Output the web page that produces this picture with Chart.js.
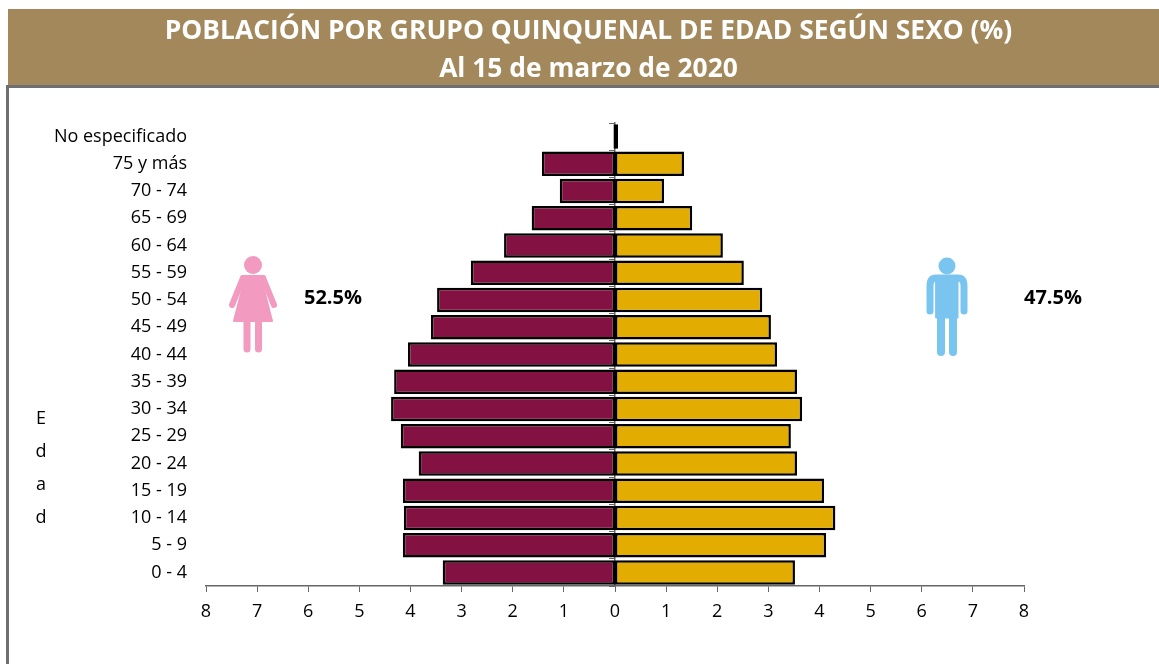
<!DOCTYPE html>
<html lang="es">
  <head>
    <meta charset="UTF-8" />
    <title>Población por grupo quinquenal de edad según sexo</title>
    <script src="https://cdn.jsdelivr.net/npm/chart.js"></script>
    <style>
      html, body { margin: 0; padding: 0; background: #fff; overflow: hidden; }
      body { width: 1159px; height: 664px; position: relative; font-family: "Open Sans", sans-serif; color: #000; }
      #myChart { position: absolute; left: 0; top: 0; }
      #header { position: absolute; left: 8px; top: 9px; width: 1151px; height: 76px; background: #a2885a; color: #fff;
        font-weight: bold; font-size: 26.4px; text-align: center; }
      #header div { position: absolute; left: 0; width: 1161px; height: 38px; line-height: 38px; }
      #frame { position: absolute; left: 6px; top: 85px; width: 1153px; height: 579px; box-sizing: border-box;
        border-left: 3px solid #6e6f73; border-top: 3px solid #6e6f73; }
      .pct { position: absolute; top: 285px; font-weight: bold; font-size: 20px; line-height: 24px; }
      .edad { position: absolute; left: 31px; width: 20px; text-align: center; font-size: 18px; line-height: 22px; }
      svg { position: absolute; left: 0; top: 0; }
    </style>
  </head>
  <body>
    <canvas id="myChart" width="1159" height="664"></canvas>

    <div id="header">
      <div style="top: 1px">POBLACIÓN POR GRUPO QUINQUENAL DE EDAD SEGÚN SEXO (%)</div>
      <div style="top: 39px">Al 15 de marzo de 2020</div>
    </div>
    <div id="frame"></div>

    <div class="edad" style="top: 406px">E</div>
    <div class="edad" style="top: 439px">d</div>
    <div class="edad" style="top: 472px">a</div>
    <div class="edad" style="top: 505px">d</div>

    <div class="pct" style="left: 304px">52.5%</div>
    <div class="pct" style="left: 1024px">47.5%</div>

    <!-- figuras de mujer y hombre -->
    <svg width="1159" height="664">
      <g fill="#f29ac0" stroke="#f29ac0" stroke-linecap="round" stroke-linejoin="round">
        <circle cx="253" cy="265" r="9" stroke="none" />
        <path d="M245 278 H261 L272 321 H234 Z" stroke-width="2" />
        <path d="M243 278 H263" stroke-width="6" fill="none" />
        <path d="M243 278 L232 305 M263 278 L274 305" stroke-width="6" fill="none" />
        <path d="M247 322 V349 M258.500 322 V349" stroke-width="7" fill="none" />
      </g>
      <g fill="#7ac5f0" stroke="#7ac5f0" stroke-linecap="round" stroke-linejoin="round">
        <circle cx="947" cy="266" r="8.500" stroke="none" />
        <path d="M936 278 H958 Q964 278 964 286 V311 M936 278 Q930 278 930 286 V311" stroke-width="7" fill="none" />
        <path d="M936 277 H958 V318 H936 Z" stroke-width="1" />
        <path d="M941 316 V352 M953 316 V352" stroke-width="8" fill="none" />
      </g>
    </svg>

    <script>
      const categorias = [
        "No especificado", "75 y más", "70 - 74", "65 - 69", "60 - 64", "55 - 59",
        "50 - 54", "45 - 49", "40 - 44", "35 - 39", "30 - 34", "25 - 29",
        "20 - 24", "15 - 19", "10 - 14", "5 - 9", "0 - 4",
      ];
      const mujeres = [0.03, 1.43, 1.08, 1.63, 2.17, 2.82, 3.48, 3.6, 4.05, 4.32, 4.38, 4.19, 3.84, 4.15, 4.13, 4.15, 3.37];
      const hombres = [0.06, 1.35, 0.96, 1.51, 2.11, 2.52, 2.88, 3.05, 3.17, 3.56, 3.66, 3.44, 3.56, 4.09, 4.31, 4.13, 3.52];

      const gris = "#666";
      const fuente = { family: "'Open Sans', sans-serif", size: 18 };

      // the grid line at 0 would open a gap between the two bars, so its tick is drawn here
      const marcaCero = {
        id: "marcaCero",
        afterDraw(chart) {
          const { x } = chart.scales;
          const c = chart.ctx;
          c.save();
          c.strokeStyle = gris;
          c.beginPath();
          c.moveTo(x.getPixelForValue(0) + 0.5, x.top);
          c.lineTo(x.getPixelForValue(0) + 0.5, x.top + 6);
          c.stroke();
          c.restore();
        },
      };

      const ctx = document.getElementById("myChart").getContext("2d");
      new Chart(ctx, {
        type: "bar",
        plugins: [marcaCero],
        data: {
          labels: categorias,
          datasets: [
            {
              label: "Mujeres",
              data: mujeres.map((v) => -v),
              backgroundColor: "#831242",
              borderColor: "#000",
              borderWidth: 2.5,
              borderSkipped: false,
            },
            {
              label: "Hombres",
              data: hombres,
              backgroundColor: "#e2ac00",
              borderColor: "#000",
              borderWidth: 2.5,
              borderSkipped: false,
            },
          ],
        },
        options: {
          indexAxis: "y",
          responsive: false,
          animation: false,
          categoryPercentage: 1,
          barPercentage: 0.9,
          layout: { padding: { top: 123, right: 135, left: 0, bottom: 0 } },
          plugins: { legend: { display: false }, tooltip: { enabled: false } },
          scales: {
            x: {
              stacked: true,
              min: -8,
              max: 8,
              grid: {
                drawOnChartArea: false,
                color: gris,
                tickLength: 6,
                lineWidth: (c) => (c.tick && c.tick.value === 0 ? 0 : 1),
              },
              border: { color: gris, width: 1.5 },
              ticks: {
                stepSize: 1,
                maxRotation: 0,
                autoSkip: false,
                color: "#000",
                font: fuente,
                padding: 9,
                callback: (v) => Math.abs(v),
              },
              afterFit: (scale) => { scale.height = 78; },
            },
            y: {
              stacked: true,
              grid: { display: false },
              border: { display: false },
              ticks: { color: "#000", font: fuente, padding: 11, autoSkip: false },
              afterFit: (scale) => { scale.width = 206; },
            },
            // eje vertical en el cero
            y2: {
              type: "category",
              axis: "y",
              labels: categorias,
              position: { x: 0 },
              grid: { drawOnChartArea: false, color: gris, tickLength: 5 },
              border: { color: gris, width: 1.5 },
              ticks: { display: false },
            },
          },
        },
      });
    </script>
  </body>
</html>
